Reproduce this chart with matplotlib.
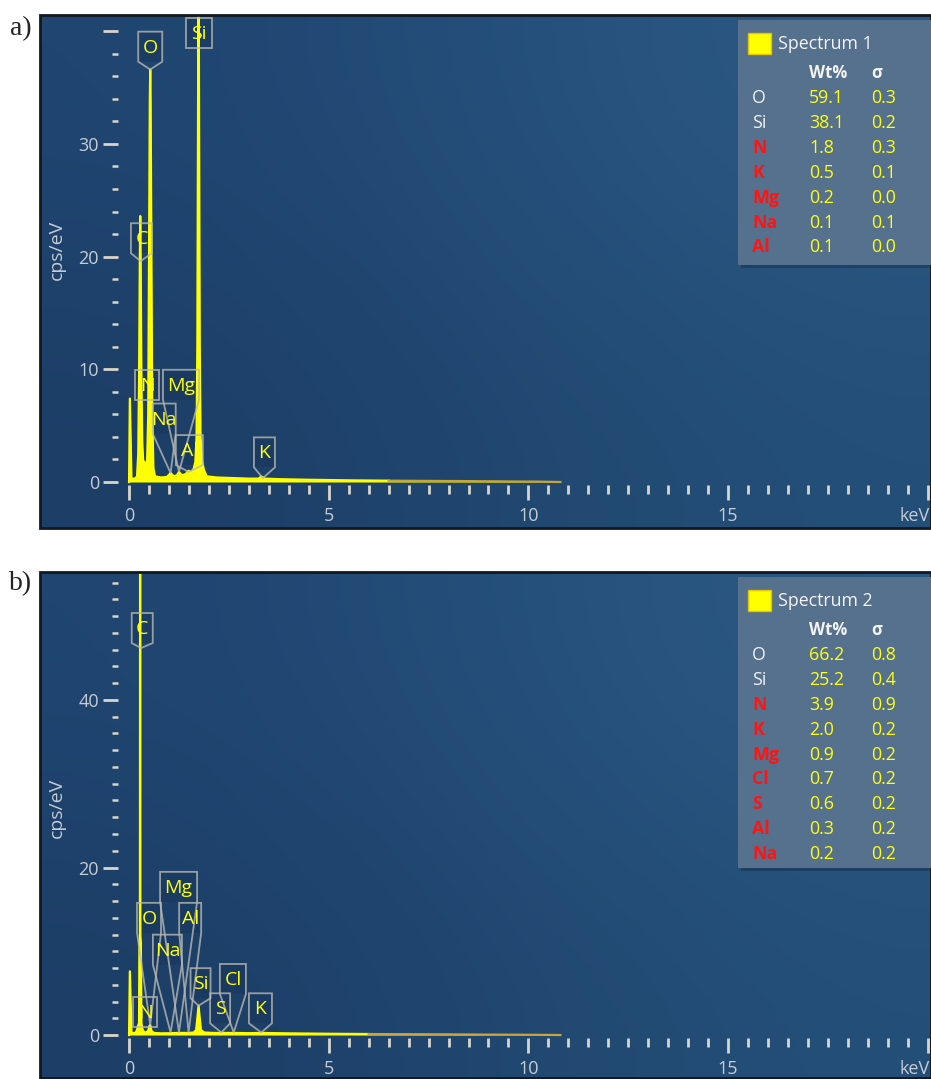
import numpy as np
import matplotlib
matplotlib.use("Agg")
import matplotlib.pyplot as plt
from matplotlib.patches import Polygon, Rectangle
from matplotlib.transforms import IdentityTransform
from matplotlib.ticker import FixedLocator

plt.rcParams['font.family'] = ['Open Sans', 'DejaVu Sans']

# ---- spectrum 1 (keV, cps/eV)
spec1_kev = [0.00, 0.02, 0.06, 0.15, 0.20, 0.23, 0.25, 0.27, 0.28, 0.29,
             0.31, 0.33, 0.36, 0.39, 0.42, 0.45, 0.48, 0.50, 0.52, 0.53,
             0.54, 0.56, 0.58, 0.61, 0.65, 0.80, 0.95, 1.04, 1.12, 1.20,
             1.25, 1.32, 1.42, 1.49, 1.56, 1.62, 1.66, 1.69, 1.71, 1.74,
             1.77, 1.79, 1.83, 1.88, 1.95, 2.20, 2.60, 3.00, 3.25, 3.31,
             3.40, 3.80, 4.50, 5.50, 6.50, 7.50, 8.50, 9.50, 10.3, 10.8]
spec1_cps = [0.0, 7.4, 0.3, 0.3, 0.5, 2.5, 9.0, 20.0, 23.6, 20.0,
             9.0, 3.5, 1.5, 1.8, 1.2, 1.5, 6.0, 20.0, 34.0, 36.6,
             34.0, 20.0, 6.0, 1.2, 0.5, 0.4, 0.45, 0.8, 0.5, 0.6,
             0.9, 0.6, 0.7, 1.0, 0.8, 1.2, 1.8, 4.0, 12.0, 48.0,
             12.0, 4.0, 1.8, 1.0, 0.5, 0.4, 0.35, 0.3, 0.3, 0.5,
             0.3, 0.25, 0.2, 0.15, 0.12, 0.1, 0.08, 0.05, 0.03, 0.0]

# ---- spectrum 2
spec2_kev = [0.00, 0.02, 0.06, 0.15, 0.20, 0.23, 0.25, 0.26, 0.272, 0.277,
             0.282, 0.295, 0.31, 0.34, 0.38, 0.42, 0.48, 0.51, 0.53, 0.56,
             0.62, 0.80, 1.04, 1.25, 1.49, 1.62, 1.68, 1.71, 1.74, 1.77,
             1.80, 1.88, 2.10, 2.31, 2.62, 3.00, 3.31, 4.00, 5.00, 6.00,
             7.00, 8.00, 9.00, 10.0, 10.8]
spec2_cps = [0.0, 7.6, 0.3, 0.2, 0.6, 1.2, 1.4, 11.0, 12.0, 70.0,
             12.0, 11.0, 1.4, 0.6, 0.35, 0.3, 0.5, 1.1, 1.2, 0.5,
             0.25, 0.2, 0.22, 0.25, 0.25, 0.3, 0.6, 2.0, 3.5, 2.0,
             0.6, 0.3, 0.25, 0.25, 0.25, 0.22, 0.25, 0.2, 0.15, 0.12,
             0.1, 0.08, 0.05, 0.03, 0.0]

# ---- element tags: element, box centre keV, box bottom cps, tip keV, tip cps, width px
tags1 = [('Si', 1.75, 38.5, None, None, 26),
         ('O', 0.53, 37.3, 0.53, 36.6, 24),
         ('C', 0.31, 20.3, 0.29, 19.6, 21),
         ('N', 0.45, 7.3, None, None, 24),
         ('Mg', 1.30, 7.3, 1.25, 0.9, 36),
         ('Na', 0.88, 4.3, 1.04, 0.8, 23),
         ('Al', 1.51, 1.5, 1.49, 0.9, 27),
         ('K', 3.39, 1.3, 3.35, 0.35, 21)]
tags2 = [('C', 0.33, 46.8, 0.30, 46.2, 21),
         ('O', 0.50, 12.2, 0.53, 1.2, 24),
         ('Mg', 1.24, 15.9, 1.25, 0.3, 37),
         ('Al', 1.53, 12.2, 1.49, 0.3, 22),
         ('Na', 0.96, 8.4, 1.04, 0.3, 29),
         ('Si', 1.79, 4.4, 1.74, 3.5, 20),
         ('Cl', 2.60, 4.9, 2.62, 0.3, 26),
         ('S', 2.28, 1.4, 2.31, 0.3, 20),
         ('K', 3.29, 1.4, 3.31, 0.3, 23),
         ('N', 0.40, 1.0, None, None, 24)]

# ---- quantification tables
table1_el = ['O', 'Si', 'N', 'K', 'Mg', 'Na', 'Al']
table1_wt = ['59.1', '38.1', '1.8', '0.5', '0.2', '0.1', '0.1']
table1_sig = ['0.3', '0.2', '0.3', '0.1', '0.0', '0.1', '0.0']
table2_el = ['O', 'Si', 'N', 'K', 'Mg', 'Cl', 'S', 'Al', 'Na']
table2_wt = ['66.2', '25.2', '3.9', '2.0', '0.9', '0.7', '0.6', '0.3', '0.2']
table2_sig = ['0.8', '0.4', '0.9', '0.2', '0.2', '0.2', '0.2', '0.2', '0.2']
white_el = ['O', 'Si']

W, H = 931, 1079
fig = plt.figure(figsize=(W / 100, H / 100), dpi=100)
fig.patch.set_facecolor('white')

TICK = '#d9d5cb'
LAB = '#c6ccd4'
YEL = '#ffff10'


def fx(x):
    return x / W


def fy(y):
    return 1 - y / H


def draw_tag(ax, el, bx, by, tx, ty, w, h=30):
    X, Y = ax.transData.transform((bx, by))
    box = [(X - w / 2, Y), (X - w / 2, Y + h), (X + w / 2, Y + h), (X + w / 2, Y)]
    ax.add_patch(Polygon(box, closed=True, transform=IdentityTransform(),
                         fc='#1a3960', ec='none', alpha=0.75, zorder=2))
    outline = list(box)
    if tx is not None:
        outline.append(tuple(ax.transData.transform((tx, ty))))
    ax.add_patch(Polygon(outline, closed=True, fill=False, ec='#b8b9b0',
                         lw=1.3, alpha=0.8, transform=IdentityTransform(), zorder=4))
    ax.text(X, Y + h / 2 - 1, el, transform=IdentityTransform(), ha='center',
            va='center', color=YEL, fontsize=14, zorder=5)


def panel(top, bottom, ylim, yticks, ylabels, spine_y, kev, cps, tags, label_y):
    ax = fig.add_axes([fx(40), fy(bottom), fx(931 - 40), (bottom - top) / H])
    ax.set_xlim(-2.23, 20.08)
    ax.set_ylim(*ylim)
    # gradient background
    bg = np.array([[[0.12, 0.27, 0.44], [0.17, 0.35, 0.52]],
                   [[0.11, 0.24, 0.40], [0.14, 0.31, 0.47]]])
    ax.imshow(bg, extent=[0, 1, 0, 1], transform=ax.transAxes, aspect='auto',
              interpolation='bicubic', zorder=0)
    for s in ['top', 'right', 'left', 'bottom']:
        ax.spines[s].set_visible(False)
    ax.spines['left'].set_position(('data', -0.275))
    ax.spines['bottom'].set_position(('data', spine_y))
    ax.add_patch(Rectangle((0, 0), 1, 1, transform=ax.transAxes, fill=False,
                           ec='#121820', lw=2, clip_on=False, zorder=10))

    ax.set_yticks(yticks, labels=ylabels)
    ax.yaxis.set_minor_locator(FixedLocator(np.arange(0, ylim[1], 2)))
    ax.set_xticks([0, 5, 10, 15, 20], labels=['0', '5', '10', '15', ''])
    ax.xaxis.set_minor_locator(FixedLocator(np.arange(0, 20.01, 0.5)))
    ax.tick_params(axis='both', which='major', colors=TICK, labelcolor=LAB,
                   labelsize=13, width=2, length=10.8)
    ax.tick_params(axis='y', which='major', pad=3)
    ax.tick_params(axis='x', which='major', pad=5)
    ax.tick_params(axis='y', which='minor', colors=TICK, width=1.8, length=4.3)
    ax.tick_params(axis='x', which='minor', colors=TICK, width=2, length=6.5)
    ax.annotate('keV', xy=(20.05, spine_y), xycoords='data', xytext=(0, -22),
                textcoords='offset points', ha='right', va='center',
                color=LAB, fontsize=13, annotation_clip=False)
    ax.set_ylabel('cps/eV', color=LAB, fontsize=14)
    ax.yaxis.set_label_coords(0.029, label_y)

    kev = np.asarray(kev)
    cps = np.asarray(cps)
    for t in tags:
        draw_tag(ax, *t)
    ax.fill_between(kev, cps, 0, color='#ffff00', lw=0, zorder=3)
    cut = int(np.argmax(kev >= 6.0))
    ax.plot(kev[:cut + 1], cps[:cut + 1], color='#ffff00', lw=1.6, zorder=3)
    ax.plot(kev[cut:], cps[cut:], color='#c9a43a', lw=1.6, zorder=3)
    return ax


def table(top, bottom, title, els, wts, sigs):
    fig.add_artist(Rectangle((fx(741), fy(bottom + 3)), fx(200), (bottom - top) / H,
                             transform=fig.transFigure, fc='#0e2036', ec='none', alpha=0.35))
    fig.add_artist(Rectangle((fx(738), fy(bottom)), fx(200), (bottom - top) / H,
                             transform=fig.transFigure, fc='#56718d', ec='none'))
    fig.add_artist(Rectangle((fx(748), fy(top + 34)), fx(23), 21 / H,
                             transform=fig.transFigure, fc='#ffff00', ec='#e6c200', lw=1))
    fig.text(fx(778), fy(top + 24), title, color='#f4f4f4', fontsize=12.8, va='center')
    fig.text(fx(809), fy(top + 53), 'Wt%', color='#f4f4f4', fontsize=12,
             fontweight='bold', va='center')
    fig.text(fx(871), fy(top + 53), 'σ', color='#f4f4f4', fontsize=12,
             fontweight='bold', va='center')
    for i, (e, w, s) in enumerate(zip(els, wts, sigs)):
        y = fy(top + 78 + i * 24.9)
        if e in white_el:
            fig.text(fx(752), y, e, color='#f2f2f2', fontsize=12.8, va='center')
        else:
            fig.text(fx(752), y, e, color='#ff1414', fontsize=12.8, va='center',
                     fontweight='bold')
        fig.text(fx(809), y, w, color=YEL, fontsize=12.8, va='center')
        fig.text(fx(871), y, s, color=YEL, fontsize=12.8, va='center')


panel(15, 528, (-4.08, 41.44), [0, 10, 20, 30, 40], ['0', '10', '20', '30', ''],
      -0.27, spec1_kev, spec1_cps, tags1, 0.542)
panel(572, 1078, (-5.13, 55.28), [0, 20, 40], ['0', '20', '40'],
      -0.36, spec2_kev, spec2_cps, tags2, 0.534)

table(20, 265, 'Spectrum 1', table1_el, table1_wt, table1_sig)
table(577, 868, 'Spectrum 2', table2_el, table2_wt, table2_sig)

fig.text(fx(21), fy(29), 'a)', family='Liberation Serif', fontsize=20,
         ha='center', va='center', color='#222222')
fig.text(fx(21), fy(584), 'b)', family='Liberation Serif', fontsize=20,
         ha='center', va='center', color='#222222')

fig.savefig('out.png', dpi=100)
